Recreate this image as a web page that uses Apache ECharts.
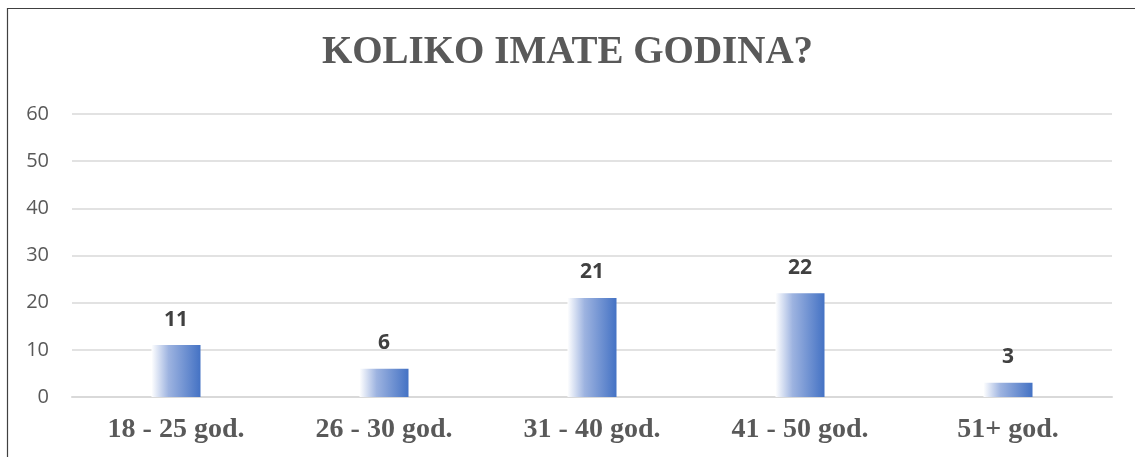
<!DOCTYPE html>
<html lang="hr">
<head>
    <meta charset="UTF-8">
    <title>Koliko imate godina?</title>
    <style>
        html, body { margin: 0; padding: 0; background: #fff; }
    </style>
</head>
<body>
    <div id="chart" style="width: 1135px;height: 457px"></div>

    <script src="https://cdn.jsdelivr.net/npm/echarts@6/dist/echarts.min.js"></script>
    <script>
        // podaci
        var categories = ['18 - 25 god.', '26 - 30 god.', '31 - 40 god.', '41 - 50 god.', '51+ god.'];
        var counts = [11, 6, 21, 22, 3];

        var myChart = echarts.init(document.getElementById('chart'));

        myChart.setOption({
            animation: false,
            title: {
                text: 'KOLIKO IMATE GODINA?',
                left: 'center',
                top: 28,
                textStyle: {
                    fontFamily: 'Liberation Serif',
                    fontWeight: 'bold',
                    fontSize: 39,
                    color: '#595959'
                }
            },
            graphic: [
                { type: 'line', shape: { x1: 7.5, y1: 8, x2: 7.5, y2: 457 }, style: { stroke: '#404040', lineWidth: 1.2 } },
                { type: 'line', shape: { x1: 7, y1: 8.5, x2: 1135, y2: 8.5 }, style: { stroke: '#404040', lineWidth: 1.2 } }
            ],
            grid: {
                left: 72,
                right: 23,
                top: 114,
                bottom: 60
            },
            xAxis: {
                type: 'category',
                data: categories,
                axisTick: { show: false },
                axisLine: { lineStyle: { color: '#D9D9D9', width: 2 } },
                axisLabel: {
                    margin: 19,
                    fontFamily: 'Liberation Serif',
                    fontWeight: 'bold',
                    fontSize: 28,
                    color: '#595959'
                }
            },
            yAxis: {
                type: 'value',
                min: 0,
                max: 60,
                interval: 10,
                axisLine: { show: false },
                axisTick: { show: false },
                splitLine: { lineStyle: { color: '#D9D9D9', width: 1.5 } },
                axisLabel: {
                    margin: 23,
                    fontFamily: 'Open Sans',
                    fontSize: 20,
                    color: '#595959'
                }
            },
            series: [
                {
                    type: 'bar',
                    data: counts,
                    barWidth: 49,
                    itemStyle: {
                        color: new echarts.graphic.LinearGradient(0, 0, 1, 0, [
                            { offset: 0, color: 'rgba(255,255,255,1)' },
                            { offset: 0.35, color: '#9db3e0' },
                            { offset: 1, color: '#4472C4' }
                        ])
                    },
                    label: {
                        show: true,
                        position: 'top',
                        distance: 15,
                        fontFamily: 'Open Sans',
                        fontWeight: 'bold',
                        fontSize: 21,
                        color: '#404040'
                    }
                }
            ]
        });
    </script>
</body>
</html>
